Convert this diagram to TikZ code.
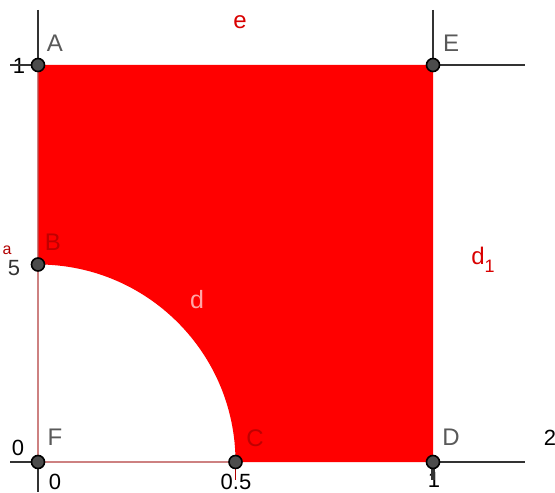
\documentclass[tikz,border=0pt]{standalone}
\usepackage{fontspec}
\setmainfont{Liberation Sans}
\begin{document}
\begin{tikzpicture}[x=0.5pt,y=0.5pt,
  pt/.style={circle,draw=black,fill=black!70,line width=0.8pt,inner sep=0pt,minimum size=6.5pt},
  axis/.style={black!80,line width=1.2pt},
  seg/.style={red!60!black!70,line width=0.9pt,opacity=0.7},
  lab/.style={font=\fontsize{12}{14}\selectfont,text=black!65},
  redlab/.style={font=\fontsize{12}{14}\selectfont,text=red!85!black},
  tick/.style={font=\fontsize{11}{13}\selectfont,text=black}]
\useasboundingbox (0,0) rectangle (555,492);
% coordinates
\coordinate (A) at (38,427);
\coordinate (E) at (433,427);
\coordinate (D) at (433,30);
\coordinate (F) at (38,30);
\coordinate (B) at (38,227.5);
\coordinate (C) at (235.5,30);
\coordinate (Atop) at (38,482);
\coordinate (Etop) at (433,482);
\coordinate (Aleft) at (10,427);
\coordinate (Eright) at (525,427);
\coordinate (Fleft) at (10,30);
\coordinate (Dright) at (525,30);
\coordinate (Fbot) at (38,0);
\coordinate (Dbot) at (433,12);
% red region
\fill[red] (A) -- (E) -- (D) -- (C) arc[start angle=0,end angle=90,radius=197.5] -- cycle;
% tick labels
\node[tick] (t1) at (19,426) {1};
\node[tick] (t0y) at (18,44) {0};
\node[tick] (t0x) at (55,10) {0};
\node[tick] (t05) at (236,10) {0.5};
\node[tick] (t1x) at (434,12) {1};
\node[tick] (t2) at (550,54) {2};
\node[tick,text=black!80] (t05y) at (14,224) {5};
\node[font=\fontsize{8}{10}\selectfont,text=red!70!black] (t05ya) at (7,242) {a};
% axes/lines
\draw[axis] (Atop) -- (A);
\draw[axis] (Etop) -- (E);
\draw[axis] (Aleft) -- (A);
\draw[axis] (E) -- (Eright);
\draw[axis] (Fleft) -- (F);
\draw[axis] (D) -- (Dright);
\draw[axis] (F) -- (Fbot);
\draw[axis,line width=1.8pt] (D) -- (Dbot);
\draw[seg] (A) -- (F);
\draw[seg] (F) -- (C);
\draw[red!70!black,line width=0.8pt] (C) ++(0,-4) -- ++(0,-14);
% points
\foreach \p in {A,E,D,F,B,C} \node[pt] (p\p) at (\p) {};
% labels
\node[lab] (lA) at (55,449) {A};
\node[lab] (lE) at (451,449) {E};
\node[lab] (lF) at (55,55) {F};
\node[lab] (lD) at (451,55) {D};
\node[font=\fontsize{12}{14}\selectfont,text=red!75!black] (lB) at (53,250) {B};
\node[font=\fontsize{12}{14}\selectfont,text=red!75!black] (lC) at (255,54) {C};
\node[font=\fontsize{12.5}{14}\selectfont,text=red!35!white] (ld) at (197,192) {d};
\node[redlab] (le) at (240,470) {e};
\node[redlab] (ld1) at (483,232) {d\raisebox{-4pt}{\fontsize{9}{10}\selectfont 1}};
\end{tikzpicture}
\end{document}
